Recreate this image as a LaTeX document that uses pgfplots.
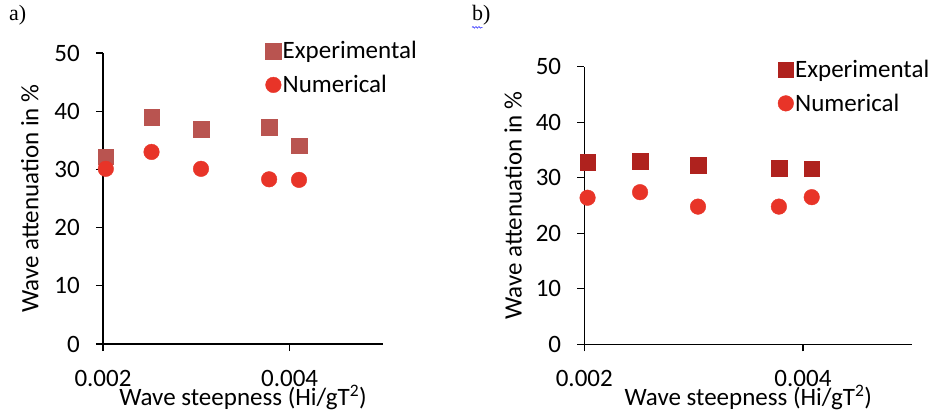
\documentclass[border=0pt]{standalone}
\usepackage{fontspec}
\setmainfont{Carlito}
\newfontfamily\timesfont{Liberation Serif}
\usepackage{pgfplots}
\pgfplotsset{compat=1.18}
\usetikzlibrary{decorations.pathmorphing}

\definecolor{expA}{RGB}{185,84,80}
\definecolor{expB}{RGB}{175,34,30}
\definecolor{numred}{RGB}{232,52,40}

\pgfplotsset{
  wave/.style={
    scale only axis,
    axis lines*=left,
    axis line style={line width=1.3pt, black},
    tick style={line width=1.3pt, black},
    tick align=outside,
    major tick length=7pt,
    xmin=0.002, xmax=0.005,
    ymin=0, ymax=50,
    xtick={0.002,0.004},
    xticklabels={0.002,0.004},
    scaled x ticks=false,
    ytick={0,10,20,30,40,50},
    /pgf/number format/assume math mode=true,
    font=\fontsize{25}{30}\selectfont,
    yticklabel style={anchor=east, inner sep=0pt, xshift=-16pt},
    xticklabel style={anchor=center, inner sep=0pt},
    xlabel={Wave steepness (Hi/gT\textsuperscript{2})},
    ylabel={Wave attenuation in \%},
    clip=false,
    legend cell align=left,
    legend image code/.code={\draw[##1] plot coordinates {(0pt,0pt)};},
    legend style={draw=none, fill=none, inner sep=0pt, row sep=12pt,
      font=\fontsize{25}{30}\selectfont,
      nodes={inner sep=1.5pt, anchor=west}},
  },
}

\begin{document}
\begin{tikzpicture}
\useasboundingbox (0,0) rectangle (940pt,418pt);

% panel a
\node[font=\timesfont\fontsize{22}{26}\selectfont, anchor=north west, inner sep=0pt] at (9pt,413pt) {a)};
\begin{axis}[wave,
  at={(103pt,74pt)}, anchor=south west,
  width=280pt, height=291pt,
  xticklabel style={yshift=-27pt},
  xlabel style={at={(axis description cs:0.5,-0.183)}, anchor=center},
  ylabel style={at={(axis description cs:-0.261,0.5)}, anchor=center},
  legend style={at={(0.58,1.045)}, anchor=north west},
]
\addplot[only marks, mark=square*, mark size=7.8pt, color=expA] coordinates {
  (0.00203,32.2) (0.00252,39.0) (0.00305,36.9) (0.00378,37.3) (0.00410,34.1)};
\addlegendentry{Experimental}
\addplot[only marks, mark=*, mark size=7.8pt, color=numred] coordinates {
  (0.00203,30.1) (0.00252,33.0) (0.00305,30.1) (0.00378,28.3) (0.00410,28.2)};
\addlegendentry{Numerical}
\end{axis}

% panel b
\node[font=\timesfont\fontsize{22}{26}\selectfont, anchor=north west, inner sep=0pt] (lb) at (472pt,413pt) {b)};
\draw[blue!80, line width=0.6pt, decorate, decoration={snake, amplitude=0.8pt, segment length=3pt}]
  ([yshift=-2pt]lb.south west) -- ([yshift=-2pt,xshift=-8pt]lb.south east);
\begin{axis}[wave,
  at={(584.3pt,73.7pt)}, anchor=south west,
  width=328pt, height=277.6pt,
  xticklabel style={yshift=-27pt},
  xlabel style={at={(axis description cs:0.5,-0.191)}, anchor=center},
  ylabel style={at={(axis description cs:-0.217,0.5)}, anchor=center},
  legend style={at={(0.59,1.03)}, anchor=north west},
]
\addplot[only marks, mark=square*, mark size=7.8pt, color=expB] coordinates {
  (0.00203,32.8) (0.00251,33.0) (0.00304,32.3) (0.00378,31.7) (0.00408,31.6)};
\addlegendentry{Experimental}
\addplot[only marks, mark=*, mark size=7.8pt, color=numred] coordinates {
  (0.00203,26.4) (0.00251,27.4) (0.00304,24.8) (0.00378,24.8) (0.00408,26.5)};
\addlegendentry{Numerical}
\end{axis}
\end{tikzpicture}
\end{document}
